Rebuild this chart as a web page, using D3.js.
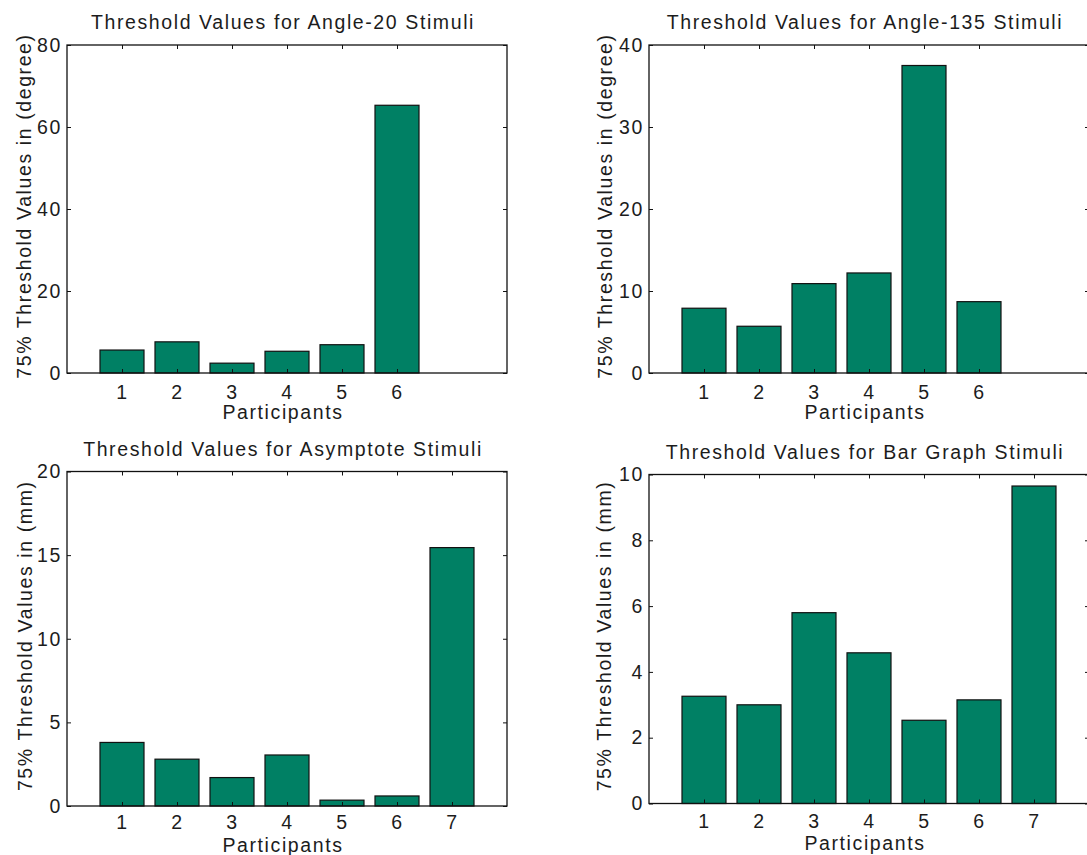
<!DOCTYPE html>
<html>
<head>
<meta charset="utf-8">
<script src="https://cdn.jsdelivr.net/npm/d3@7"></script>
<style>
  body { margin: 0; background: #fff; }
  svg { display: block; }
  text { font-family: "Liberation Sans", Arial, Helvetica, sans-serif; fill: #1c1c1c; }
</style>
</head>
<body>
<svg id="fig" width="1087" height="855"></svg>
<script>
// Participants shown on each panel
const participantsAngle = [1, 2, 3, 4, 5, 6];
const participantsLength = [1, 2, 3, 4, 5, 6, 7];

// 75% threshold values per participant
const angle20Values    = [5.6, 7.6, 2.4, 5.3, 6.9, 65.3];
const angle135Values   = [7.9, 5.7, 10.9, 12.2, 37.5, 8.7];
const asymptoteValues  = [3.8, 2.8, 1.7, 3.05, 0.35, 0.6, 15.45];
const barGraphValues   = [3.26, 3.0, 5.8, 4.58, 2.53, 3.15, 9.65];

// Y tick labels per panel
const angle20Ticks   = [0, 20, 40, 60, 80];
const angle135Ticks  = [0, 10, 20, 30, 40];
const asymptoteTicks = [0, 5, 10, 15, 20];
const barGraphTicks  = [0, 2, 4, 6, 8, 10];

// Texts
const titles = [
  "Threshold Values for Angle-20  Stimuli",
  "Threshold Values for Angle-135  Stimuli",
  "Threshold Values for Asymptote Stimuli",
  "Threshold Values for Bar Graph Stimuli"
];
const yLabels = [
  "75% Threshold Values in (degree)",
  "75% Threshold Values in (degree)",
  "75% Threshold Values in (mm)",
  "75% Threshold Values in (mm)"
];
const xLabel = "Participants";

const BAR_FILL = "rgb(0,128,100)";
const FONT = 19.5, LS = 1.6;

// Panel frames (axes box in page pixels) plus label placements
const panels = [
  { cats: participantsAngle,  vals: angle20Values,   ticks: angle20Ticks,
    left: 67,  top: 45,    bottom: 373,   yLabX: 24,  tickBase: 26 },
  { cats: participantsAngle,  vals: angle135Values,  ticks: angle135Ticks,
    left: 649, top: 45,    bottom: 373,   yLabX: 605, tickBase: 26 },
  { cats: participantsLength, vals: asymptoteValues, ticks: asymptoteTicks,
    left: 67,  top: 471.5, bottom: 806,   yLabX: 25,  tickBase: 23 },
  { cats: participantsLength, vals: barGraphValues,  ticks: barGraphTicks,
    left: 649, top: 474.5, bottom: 803.5, yLabX: 604, tickBase: 25 }
];
const AX_W = 440;

const svg = d3.select("#fig");

panels.forEach((p, i) => {
  const g = svg.append("g");
  const x = d3.scaleLinear().domain([0, 8]).range([p.left, p.left + AX_W]);
  const y = d3.scaleLinear().domain([0, d3.max(p.ticks)]).range([p.bottom, p.top]);

  // bars
  g.selectAll("rect.bar")
    .data(p.cats.map((c, k) => ({ c, v: p.vals[k] })))
    .join("rect")
    .attr("class", "bar")
    .attr("x", d => x(d.c - 0.4))
    .attr("width", d => x(d.c + 0.4) - x(d.c - 0.4))
    .attr("y", d => y(d.v))
    .attr("height", d => y(0) - y(d.v))
    .attr("fill", BAR_FILL)
    .attr("stroke", "#111")
    .attr("stroke-width", 1.2);

  // axes: inward ticks on all four sides
  const styleAxis = sel => {
    sel.select(".domain").remove();
    sel.selectAll(".tick line").attr("stroke", "#111").attr("stroke-width", 1);
    sel.selectAll("text").style("font-size", FONT + "px").style("letter-spacing", LS + "px")
      .attr("fill", "#1c1c1c");
  };

  g.append("g").attr("transform", `translate(0,${p.bottom})`)
    .call(d3.axisBottom(x).tickValues(p.cats).tickFormat(d3.format("d"))
      .tickSizeInner(-4).tickSizeOuter(0).tickPadding(p.tickBase - 0.716 * FONT))
    .call(styleAxis);
  g.append("g").attr("transform", `translate(0,${p.top})`)
    .call(d3.axisTop(x).tickValues(p.cats).tickFormat("").tickSizeInner(-4).tickSizeOuter(0))
    .call(styleAxis);
  g.append("g").attr("transform", `translate(${p.left},0)`)
    .call(d3.axisLeft(y).tickValues(p.ticks).tickFormat(d3.format("d"))
      .tickSizeInner(-4).tickSizeOuter(0).tickPadding(5))
    .call(styleAxis);
  g.append("g").attr("transform", `translate(${p.left + AX_W},0)`)
    .call(d3.axisRight(y).tickValues(p.ticks).tickFormat("").tickSizeInner(-4).tickSizeOuter(0))
    .call(styleAxis);

  // axes box
  g.append("rect")
    .attr("x", p.left).attr("y", p.top)
    .attr("width", AX_W).attr("height", p.bottom - p.top)
    .attr("fill", "none").attr("stroke", "#111").attr("stroke-width", 1.3);

  const cx = p.left + AX_W / 2 - 4;

  // title
  g.append("text")
    .attr("x", cx).attr("y", p.top - 16)
    .attr("text-anchor", "middle")
    .style("font-size", FONT + "px").style("letter-spacing", LS + "px")
    .text(titles[i]);

  // x label
  g.append("text")
    .attr("x", cx).attr("y", p.bottom + 46)
    .attr("text-anchor", "middle")
    .style("font-size", FONT + "px").style("letter-spacing", LS + "px")
    .text(xLabel);

  // y label
  const yc = (p.top + p.bottom) / 2 - 3;
  g.append("text")
    .attr("transform", `translate(${p.yLabX},${yc}) rotate(-90)`)
    .attr("text-anchor", "middle")
    .attr("dominant-baseline", "central")
    .style("font-size", FONT + "px").style("letter-spacing", LS + "px")
    .text(yLabels[i]);
});
</script>
</body>
</html>
